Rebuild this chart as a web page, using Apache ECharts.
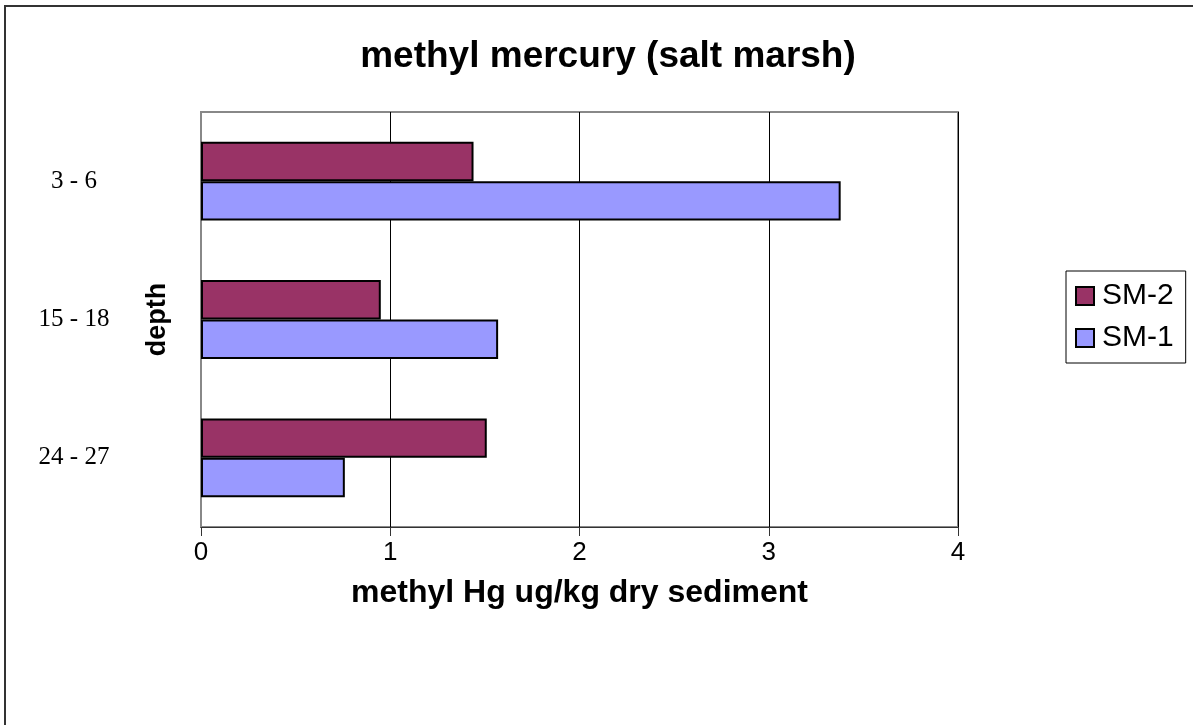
<!DOCTYPE html>
<html>
<head>
<meta charset="utf-8">
<style>
  html, body { margin: 0; padding: 0; background: #fff; }
  #chart { width: 1193px; height: 725px; }
</style>
<script src="https://cdn.jsdelivr.net/npm/echarts@6/dist/echarts.min.js"></script>
</head>
<body>
<div id="chart"></div>
<script>
// depth categories (top to bottom) and values
var depths = ['3 - 6', '15 - 18', '24 - 27'];
var sm2 = [1.44, 0.95, 1.51];
var sm1 = [3.38, 1.57, 0.76];
var xTicks = [0, 1, 2, 3, 4];

var chart = echarts.init(document.getElementById('chart'));

var option = {
    backgroundColor: '#fff',
    animation: false,
    // outer chart frame, only left and top edges are visible
    graphic: [{
        type: 'rect',
        shape: { x: 5, y: 6, width: 1300, height: 800 },
        style: { fill: 'none', stroke: '#333', lineWidth: 2 },
        silent: true
    }],
    title: {
        text: 'methyl mercury (salt marsh)',
        left: 603,
        textAlign: 'center',
        top: 33,
        textStyle: { fontFamily: 'Arial, Liberation Sans', fontSize: 37, fontWeight: 'bold', color: '#000' }
    },
    legend: {
        orient: 'vertical',
        left: 1066,
        top: 271,
        padding: [10, 12, 10, 9],
        itemGap: 12,
        itemWidth: 18,
        itemHeight: 18,
        borderColor: '#000',
        borderWidth: 1,
        itemStyle: { borderColor: '#000', borderWidth: 2 },
        textStyle: { fontFamily: 'Arial, Liberation Sans', fontSize: 30, color: '#000', padding: [0, 0, 0, 3] },
        data: [{ name: 'SM-2', icon: 'rect' }, { name: 'SM-1', icon: 'rect' }]
    },
    grid: {
        left: 201,
        top: 112,
        right: 235,
        bottom: 198,
        show: true,
        borderColor: '#888',
        borderWidth: 2,
        containLabel: false,
        outerBoundsMode: 'none'
    },
    xAxis: {
        type: 'value',
        min: xTicks[0],
        max: xTicks[xTicks.length - 1],
        interval: 1,
        name: 'methyl Hg ug/kg dry sediment',
        nameLocation: 'middle',
        nameGap: 50,
        nameMoveOverlap: false,
        nameTextStyle: { fontFamily: 'Arial, Liberation Sans', fontSize: 32, fontWeight: 'bold', color: '#000' },
        axisLine: { show: true, lineStyle: { color: '#333', width: 1 } },
        axisTick: { show: true, length: 9, lineStyle: { color: '#333' } },
        axisLabel: { margin: 13, fontFamily: 'Arial, Liberation Sans', fontSize: 26, color: '#000' },
        splitLine: { show: true, lineStyle: { color: '#000', width: 1 } }
    },
    yAxis: {
        type: 'category',
        inverse: true,
        data: depths,
        name: 'depth',
        nameLocation: 'middle',
        nameGap: 30,
        nameMoveOverlap: false,
        nameTextStyle: { fontFamily: 'Arial, Liberation Sans', fontSize: 27, fontWeight: 'bold', color: '#000' },
        axisLine: { show: true, lineStyle: { color: '#888', width: 2 } },
        axisTick: { show: false },
        axisLabel: { margin: 127, align: 'center', fontFamily: 'Times New Roman, Liberation Serif', fontSize: 25, color: '#000' },
        splitLine: { show: false }
    },
    series: [{
        name: 'SM-2',
        type: 'bar',
        data: sm2,
        barCategoryGap: '43%',
        barGap: '0%',
        itemStyle: { color: '#993366', borderColor: '#000', borderWidth: 2 }
    }, {
        name: 'SM-1',
        type: 'bar',
        data: sm1,
        barCategoryGap: '43%',
        barGap: '0%',
        itemStyle: { color: '#9999FF', borderColor: '#000', borderWidth: 2 }
    }]
};

chart.setOption(option);
</script>
</body>
</html>
